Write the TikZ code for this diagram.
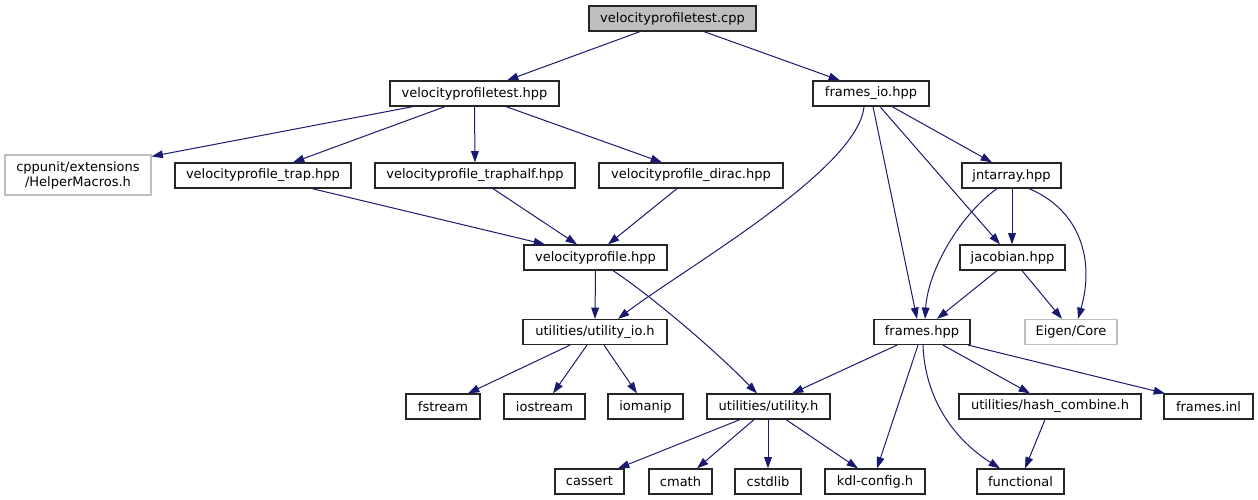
\documentclass[tikz,border=0pt]{standalone}
\usepackage{fontspec}
\setmainfont{DejaVu Sans}
\usetikzlibrary{arrows.meta,calc}
\definecolor{edgecol}{HTML}{191970}
\definecolor{grayborder}{HTML}{BFBFBF}
\definecolor{rootfill}{HTML}{BFBFBF}
\tikzset{
  fbox/.style={draw=black!85, line width=0.9pt, fill=white, inner sep=0pt, minimum height=18.75pt,
    font=\fontsize{9.75}{11.25}\selectfont, text=black, align=center},
  extbox/.style={fbox, draw=grayborder},
  rootbox/.style={fbox, fill=rootfill},
  dep/.style={draw=edgecol, line width=0.75pt, -{Triangle[length=8.5pt,width=5.8pt]}, edgecol}
}
\newcommand\depline[4]{\draw[dep] ($(#1.south)+(#2,0)$) -- ($(#3.north)+(#4,0)$);}
\begin{document}
\begin{tikzpicture}[x=0.75pt,y=-0.75pt]
\useasboundingbox (0,0) rectangle (1258,500);
% row 1
\node[rootbox, minimum width=125.25pt] (cpp) at (672.5,18.5) {velocityprofiletest.cpp};
% row 2
\node[fbox, minimum width=126.75pt] (vpthpp) at (474.5,93.5) {velocityprofiletest.hpp};
\node[fbox, minimum width=87pt] (fio) at (871,93.5) {frames\_io.hpp};
% row 3
\node[extbox, minimum width=109.5pt, minimum height=30pt] (helper) at (78,175) {cppunit/extensions\\/HelperMacros.h};
\node[fbox, minimum width=132pt] (trap) at (263,175.5) {velocityprofile\_trap.hpp};
\node[fbox, minimum width=150pt] (traphalf) at (475,175.5) {velocityprofile\_traphalf.hpp};
\node[fbox, minimum width=138pt] (dirac) at (691,175.5) {velocityprofile\_dirac.hpp};
\node[fbox, minimum width=74.25pt] (jnt) at (1011.5,175.5) {jntarray.hpp};
% row 4
\node[fbox, minimum width=107.25pt] (vp) at (595.5,257.5) {velocityprofile.hpp};
\node[fbox, minimum width=78.75pt] (jac) at (1012.5,257.5) {jacobian.hpp};
% row 5
\node[fbox, minimum width=108pt] (uio) at (595,332) {utilities/utility\_io.h};
\node[fbox, minimum width=72pt] (fr) at (922,332) {frames.hpp};
\node[extbox, minimum width=69pt] (eig) at (1071,332) {Eigen/Core};
% row 6
\node[fbox, minimum width=55.5pt] (fst) at (443,406.5) {fstream};
\node[fbox, minimum width=60.75pt] (ios) at (544.5,406.5) {iostream};
\node[fbox, minimum width=56.25pt] (iom) at (645.5,406.5) {iomanip};
\node[fbox, minimum width=92.25pt] (ut) at (768.5,406.5) {utilities/utility.h};
\node[fbox, minimum width=136.5pt] (hash) at (1050,406.5) {utilities/hash\_combine.h};
\node[fbox, minimum width=66.75pt] (inl) at (1208.5,406.5) {frames.inl};
% row 7
\node[fbox, minimum width=51.75pt] (cas) at (589.5,481.5) {cassert};
\node[fbox, minimum width=47.25pt] (cm) at (680.5,481.5) {cmath};
\node[fbox, minimum width=49.5pt] (cst) at (768,481.5) {cstdlib};
\node[fbox, minimum width=75pt] (kdl) at (875,481.5) {kdl-config.h};
\node[fbox, minimum width=65.25pt] (fun) at (1020.5,481.5) {functional};
% edges
\depline{cpp}{-32.5}{vpthpp}{32.5}
\depline{cpp}{31.5}{fio}{-31}
\draw[dep] ($(vpthpp.south)+(-61.5,0)$) -- ($(helper.north east)+(0,2)$);
\depline{vpthpp}{-29.5}{trap}{30}
\depline{vpthpp}{0}{traphalf}{0}
\depline{vpthpp}{31.5}{dirac}{-29}
\depline{trap}{49}{vp}{-50.5}
\depline{traphalf}{18}{vp}{-18.5}
\depline{dirac}{-14}{vp}{12.5}
\draw[dep] ($(fio.south)+(-7,0)$) .. controls (858,170) and (683,269) .. ($(uio.north)+(23,0)$);
\depline{fio}{2}{fr}{-5}
\depline{fio}{9}{jac}{-12.5}
\depline{fio}{21}{jnt}{-19.5}
\depline{jnt}{0.5}{jac}{-0.5}
\draw[dep] ($(jnt.south)+(-14.5,0)$) .. controls (960,215) and (928,270) .. ($(fr.north)+(3,0)$);
\draw[dep] ($(jnt.south)+(17.5,0)$) .. controls (1080,210) and (1095,260) .. ($(eig.north)+(7,0)$);
\depline{jac}{-15.5}{fr}{15}
\depline{jac}{9.5}{eig}{-9}
\depline{vp}{0}{uio}{0}
\draw[dep] ($(vp.south)+(17.5,0)$) .. controls (650,295) and (715,350) .. ($(ut.north)+(-11.5,0)$);
\depline{uio}{-25}{fst}{25}
\depline{uio}{-8}{ios}{8.5}
\depline{uio}{9}{iom}{-8.5}
\depline{fr}{-25}{ut}{23.5}
\depline{fr}{-4}{kdl}{2}
\draw[dep] ($(fr.south)+(1,0)$) .. controls (925,400) and (955,440) .. ($(fun.north)+(-20.5,0)$);
\depline{fr}{21}{hash}{-20}
\depline{fr}{46}{inl}{-43.5}
\depline{ut}{-28.5}{cas}{28.5}
\depline{ut}{-14.5}{cm}{16.5}
\depline{ut}{-0.5}{cst}{0}
\depline{ut}{17.5}{kdl}{-17}
\depline{hash}{-5}{fun}{4.5}
\end{tikzpicture}
\end{document}
